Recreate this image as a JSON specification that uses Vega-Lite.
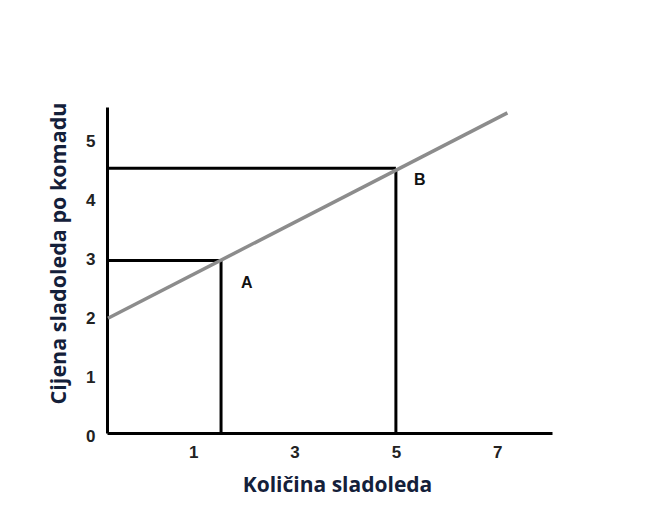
{
  "$schema": "https://vega.github.io/schema/vega-lite/v6.json",
  "autosize": "none",
  "width": 445,
  "height": 326,
  "padding": {"left": 107, "top": 107, "right": 116, "bottom": 83},
  "background": "white",
  "config": {"view": {"stroke": null}},
  "datasets": {
    "segs": [
      {"name": "A horizontal", "x": -0.7, "y": 2.93, "x2": 1.55, "y2": 2.93, "kind": "guide"},
      {"name": "A vertical", "x": 1.55, "y": 0, "x2": 1.55, "y2": 2.93, "kind": "guide"},
      {"name": "B horizontal", "x": -0.7, "y": 4.5, "x2": 5.0, "y2": 4.5, "kind": "guide"},
      {"name": "B vertical", "x": 5.0, "y": 0, "x2": 5.0, "y2": 4.5, "kind": "guide"},
      {"name": "supply", "x": -0.68, "y": 1.95, "x2": 7.2, "y2": 5.44, "kind": "line"}
    ],
    "labels": [
      {"label": "A", "x": 2.06, "y": 2.55},
      {"label": "B", "x": 5.47, "y": 4.3}
    ]
  },
  "layer": [
    {
      "data": {"name": "segs"},
      "transform": [{"filter": "datum.kind == 'guide'"}],
      "mark": {"type": "rule", "color": "black", "strokeWidth": 3},
      "encoding": {
        "x": {"field": "x", "type": "quantitative", "scale": {"domain": [-0.7, 8.08], "nice": false, "zero": false},
          "axis": {"values": [1, 3, 5, 7], "format": "d", "title": "Količina sladoleda", "grid": false, "ticks": false,
            "domainColor": "black", "domainWidth": 3, "labelFont": "Liberation Sans", "labelFontWeight": "bold",
            "labelFontSize": 17, "labelColor": "#222", "labelPadding": 11,
            "titleFont": "Open Sans", "titleFontWeight": "bold", "titleFontSize": 21, "titleColor": "#14203a", "titlePadding": 14, "titleX": 230}},
        "y": {"field": "y", "type": "quantitative", "scale": {"domain": [0, 5.54], "nice": false},
          "axis": {"values": [0, 1, 2, 3, 4, 5], "format": "d", "title": "Cijena sladoleda po komadu", "grid": false, "ticks": false,
            "domainColor": "black", "domainWidth": 3, "labelFont": "Liberation Sans", "labelFontWeight": "bold",
            "labelFontSize": 17, "labelColor": "#222", "labelPadding": 12, "labelOffset": 3,
            "titleFont": "Open Sans", "titleFontWeight": "bold", "titleFontSize": 21.5, "titleColor": "#14203a", "titlePadding": 15, "titleY": 146}},
        "x2": {"field": "x2"},
        "y2": {"field": "y2"}
      }
    },
    {
      "data": {"name": "segs"},
      "transform": [{"filter": "datum.kind == 'line'"}],
      "mark": {"type": "rule", "color": "#8c8c8c", "strokeWidth": 3.5},
      "encoding": {
        "x": {"field": "x", "type": "quantitative"},
        "y": {"field": "y", "type": "quantitative"},
        "x2": {"field": "x2"},
        "y2": {"field": "y2"}
      }
    },
    {
      "data": {"name": "labels"},
      "mark": {"type": "text", "font": "Liberation Sans", "fontWeight": "bold", "fontSize": 16, "color": "#111"},
      "encoding": {
        "x": {"field": "x", "type": "quantitative"},
        "y": {"field": "y", "type": "quantitative"},
        "text": {"field": "label"}
      }
    }
  ]
}
